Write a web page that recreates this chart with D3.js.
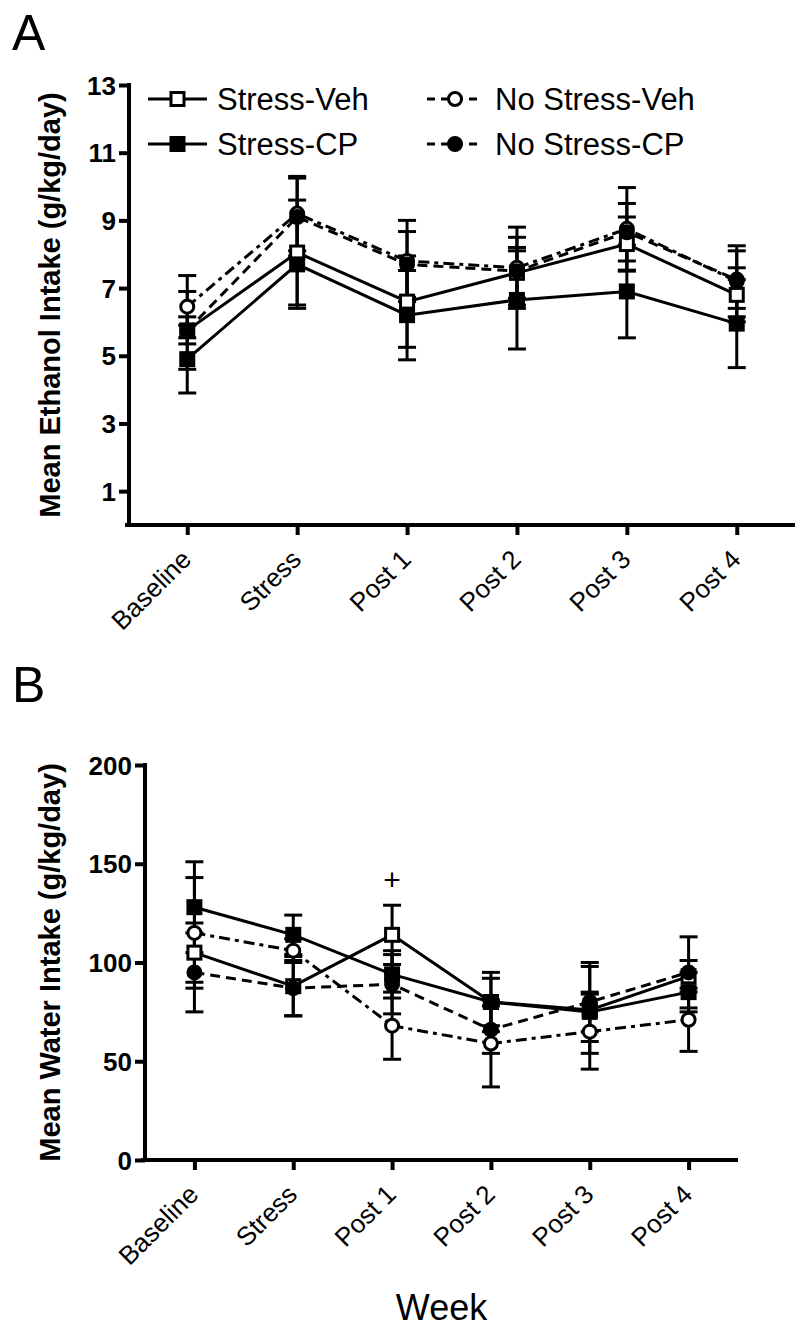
<!DOCTYPE html>
<html><head><meta charset="utf-8">
<script src="https://cdn.jsdelivr.net/npm/d3@7"></script>
<style>body{margin:0;background:#fff}svg{display:block}text{font-family:"Liberation Sans",Arial,sans-serif;fill:#000}</style>
</head><body>
<svg id="c" width="800" height="1337"></svg>
<script>
const weeks = ["Baseline","Stress","Post 1","Post 2","Post 3","Post 4"];
const seriesNames = ["Stress-Veh","Stress-CP","No Stress-Veh","No Stress-CP"];
// Panel A: mean ethanol intake
const ethStressVeh   = [5.75, 8.05, 6.6, 7.45, 8.3, 6.8];
const ethStressCP    = [4.9, 7.7, 6.2, 6.65, 6.9, 5.95];
const ethNoStressVeh = [6.45, 9.2, 7.8, 7.6, 8.75, 7.2];
const ethNoStressCP  = [5.75, 9.1, 7.7, 7.5, 8.65, 7.25];
const ethErrStressVeh   = [1.15, 1.55, 1.35, 0.75, 0.8, 0.8];
const ethErrStressCP    = [1.0, 1.3, 1.32, 1.45, 1.37, 1.3];
const ethErrNoStressVeh = [0.92, 1.1, 1.2, 1.2, 1.22, 1.05];
const ethErrNoStressCP  = [0.4, 1.15, 0.97, 1.0, 0.85, 0.85];
const ethTicks = [1,3,5,7,9,11,13];
// Panel B: mean water intake
const watStressVeh   = [105, 88, 114, 80, 76, 93];
const watStressCP    = [128, 114, 94, 80, 75, 85];
const watNoStressVeh = [115, 106, 68, 59, 65, 71];
const watNoStressCP  = [95, 87, 89, 66, 80, 95];
const watErrStressVeh   = [15, 15, 15, 12, 22, 8];
const watErrStressCP    = [23, 10, 12, 15, 10, 10];
const watErrNoStressVeh = [28, 6, 17, 22, 19, 16];
const watErrNoStressCP  = [20, 14, 15, 12, 20, 18];
const watTicks = [0,50,100,150,200];
const watAnnotation = {week:"Post 1", value:142, text:"+"};

const styles = [
  {shape:"square", fill:"#fff", dash:null},
  {shape:"square", fill:"#000", dash:null},
  {shape:"circle", fill:"#fff", dash:"11,5,4,5"},
  {shape:"circle", fill:"#000", dash:"10,6"}
];

const svg = d3.select("#c");

function marker(g, shape, fill, x, y){
  if(shape==="square"){
    g.append("rect").attr("x",x-6.5).attr("y",y-6.5).attr("width",13).attr("height",13)
      .attr("fill",fill).attr("stroke","#000").attr("stroke-width",3);
  } else {
    g.append("circle").attr("cx",x).attr("cy",y).attr("r",6.5)
      .attr("fill",fill).attr("stroke","#000").attr("stroke-width",3);
  }
}

function panel(opts){
  const g = svg.append("g");
  const x = d3.scalePoint().domain(weeks).range([opts.x0, opts.x1]).padding(opts.pad);
  const y = d3.scaleLinear().domain(opts.domain).range([opts.yb, opts.yt]);
  const ya = g.append("g").attr("transform",`translate(${opts.x0},0)`)
    .call(d3.axisLeft(y).tickValues(opts.ticks).tickSize(10).tickSizeOuter(0).tickPadding(3));
  ya.select(".domain").attr("stroke-width",4).attr("d",`M0,${opts.yt-2}V${opts.yb+2}`);
  ya.selectAll(".tick line").attr("stroke-width",4);
  ya.selectAll(".tick text").attr("font-size",26).attr("font-weight","bold").attr("dy","0.35em");
  const xa = g.append("g").attr("transform",`translate(0,${opts.yb})`)
    .call(d3.axisBottom(x).tickSize(10).tickSizeOuter(0));
  xa.select(".domain").attr("stroke-width",4).attr("d",`M${opts.x0-4},0H${opts.x1}`);
  xa.selectAll(".tick line").attr("stroke-width",4);
  xa.selectAll(".tick text").attr("font-size",26).attr("text-anchor","end")
    .attr("dy",0).attr("y",0)
    .attr("transform","translate(5,36) rotate(-45)");
  g.append("text").attr("transform",`translate(${opts.titleX},${(opts.yt+opts.yb)/2}) rotate(-90)`)
    .attr("text-anchor","middle").attr("font-size",29).attr("font-weight","bold").text(opts.title);
  g.append("text").attr("x",12).attr("y",opts.letterY).attr("font-size",50).text(opts.letter);
  opts.values.forEach((vals,i)=>{
    const st = styles[i]; const errs = opts.errors[i];
    const sg = g.append("g");
    vals.forEach((v,j)=>{
      const cx = x(weeks[j]);
      sg.append("line").attr("x1",cx).attr("x2",cx).attr("y1",y(v-errs[j])).attr("y2",y(v+errs[j]))
        .attr("stroke","#000").attr("stroke-width",3);
      [v-errs[j], v+errs[j]].forEach(e=>{
        sg.append("line").attr("x1",cx-9).attr("x2",cx+9).attr("y1",y(e)).attr("y2",y(e))
          .attr("stroke","#000").attr("stroke-width",3);
      });
    });
    sg.append("path").datum(vals)
      .attr("d",d3.line().x((d,j)=>x(weeks[j])).y(d=>y(d)))
      .attr("fill","none").attr("stroke","#000").attr("stroke-width",3)
      .attr("stroke-dasharray",st.dash);
  });
  opts.values.forEach((vals,i)=>{
    const st = styles[i];
    vals.forEach((v,j)=> marker(g, st.shape, st.fill, x(weeks[j]), y(v)));
  });
  return {g,x,y};
}

const A = panel({x0:129,x1:795,pad:0.53,yb:525,yt:85,domain:[0,13],ticks:ethTicks,
  values:[ethStressVeh,ethStressCP,ethNoStressVeh,ethNoStressCP],
  errors:[ethErrStressVeh,ethErrStressCP,ethErrNoStressVeh,ethErrNoStressCP],
  title:"Mean Ethanol Intake (g/kg/day)", titleX:60, letter:"A", letterY:50});

const B = panel({x0:145,x1:738,pad:0.5,yb:1160,yt:765,domain:[0,200],ticks:watTicks,
  values:[watStressVeh,watStressCP,watNoStressVeh,watNoStressCP],
  errors:[watErrStressVeh,watErrStressCP,watErrNoStressVeh,watErrNoStressCP],
  title:"Mean Water Intake (g/kg/day)", titleX:60, letter:"B", letterY:702});

B.g.append("text").attr("x",B.x(watAnnotation.week)).attr("y",B.y(watAnnotation.value)).attr("dy","0.35em")
  .attr("text-anchor","middle").attr("font-size",30).text(watAnnotation.text);

svg.append("text").attr("x",(145+738)/2).attr("y",1320).attr("text-anchor","middle")
  .attr("font-size",36).text("Week");

const leg = svg.append("g");
const legPos = [{x1:148,x2:207,y:99,tx:217},{x1:148,x2:207,y:144,tx:217},{x1:427,x2:483,y:99,tx:495},{x1:427,x2:483,y:144,tx:495}];
seriesNames.forEach((name,i)=>{
  const p = legPos[i], st = styles[i];
  leg.append("line").attr("x1",p.x1).attr("x2",p.x2).attr("y1",p.y).attr("y2",p.y)
    .attr("stroke","#000").attr("stroke-width",3).attr("stroke-dasharray", st.dash ? "8,6" : null);
  marker(leg, st.shape, st.fill, (p.x1+p.x2)/2, p.y);
  leg.append("text").attr("x",p.tx).attr("y",p.y).attr("dy","0.36em").attr("font-size",31).text(name);
});
</script>
</body></html>
